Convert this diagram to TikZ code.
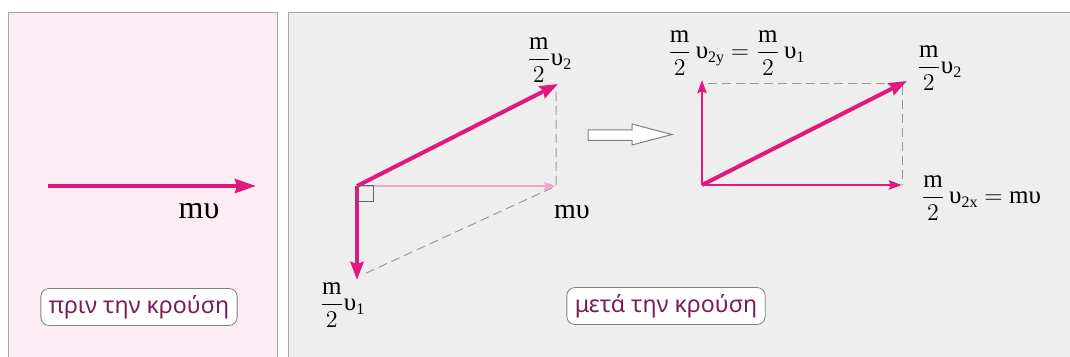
\documentclass[tikz,border=0pt]{standalone}
\usepackage{amsmath}
\usepackage{fontspec}
\setmainfont{Liberation Serif}
\newfontfamily\tagfont{Noto Sans}
\usetikzlibrary{arrows.meta}
\definecolor{vecpink}{RGB}{226,25,125}
\definecolor{fadepink}{RGB}{245,165,205}
\definecolor{panelpink}{RGB}{253,236,244}
\definecolor{panelgray}{RGB}{238,238,238}
\definecolor{tagtext}{RGB}{120,30,85}
\newcommand{\mhalf}{\dfrac{\text{m}}{2}}
\newcommand{\vel}[1]{\text{υ\raisebox{-0.3ex}{\fontsize{8}{9}\selectfont #1}}}

\begin{document}
\begin{tikzpicture}[x=0.5pt, y=-0.5pt, font=\fontsize{14}{16}\selectfont,
  vec/.style={line width=2pt, vecpink, -{Stealth[length=9pt,width=6.5pt,inset=1pt]}},
  comp/.style={line width=1.4pt, vecpink, -{Stealth[length=6.5pt,width=4.5pt,inset=0.8pt]}},
  vecfaint/.style={line width=1pt, fadepink, -{Stealth[length=6pt,width=4pt,inset=0.8pt]}},
  guide/.style={gray!80, line width=0.5pt, dash pattern=on 4.5pt off 2.5pt},
  frac/.style={font=\fontsize{12.5}{14}\selectfont},
  tag/.style={draw=gray, fill=white, rounded corners=4pt, text=tagtext,
    font=\tagfont\fontsize{11.6}{14}\selectfont, minimum height=14.5pt, inner xsep=4pt}]
  \useasboundingbox (0,0) rectangle (1070,357);
  % panels
  \fill[panelpink] (8,12) rectangle (277,357);
  \draw[gray!70] (8,357) -- (8,12) -- (277,12) -- (277,357);
  \fill[panelgray] (288,12) rectangle (1070,357);
  \draw[gray!70] (288,357) -- (288,12) -- (1070,12);
  % before
  \coordinate (a0) at (48,186);
  \coordinate (a1) at (256,186);
  \draw[vec, -{Stealth[length=10.5pt,width=7pt,inset=1pt]}] (a0) -- (a1);
  \node[font=\fontsize{16}{18}\selectfont] (mvA) at (199,211) {mυ};
  \node[tag] (before) at (139,307) {πριν την κρούση};
  % after: parallelogram
  \coordinate (o) at (357,186);
  \coordinate (p2) at (558,84);
  \coordinate (pm) at (556,186);
  \coordinate (pc) at (556,92);
  \coordinate (p1) at (357,280);
  \coordinate (p1e) at (362,275);
  \draw[guide] (pc) -- (pm) -- (p1e);
  \draw[vecfaint] (o) -- (pm);
  \draw[vec] (o) -- (p2);
  \draw[vec] (o) -- (p1);
  \draw[gray!80!black, line width=0.5pt] (o) rectangle ++(16,16);
  \node[frac] (lp2) at (549,60) {$\mhalf\vel{2}$};
  \node (lmv) at (572,212) {mυ};
  \node[frac] (lp1) at (342,305) {$\mhalf\vel{1}$};
  % hollow arrow
  \draw[gray, fill=white, line width=0.5pt] (588,130) -- (632,130) -- (632,124) -- (672,134.5)
    -- (632,145) -- (632,140.5) -- (588,140.5) -- cycle;
  % after: components
  \coordinate (q) at (702,185);
  \coordinate (qy) at (702,80);
  \coordinate (qx) at (902,185);
  \coordinate (q2) at (907,81);
  \coordinate (qt) at (708,84);
  \coordinate (qc) at (902,84);
  \draw[guide] (qt) -- (qc) -- (qx);
  \draw[comp] (q) -- (qy);
  \draw[comp] (q) -- (qx);
  \draw[vec] (q) -- (q2);
  \node[frac] (lqy) at (736,53) {$\mhalf\,\vel{2y} = \mhalf\,\vel{1}$};
  \node[frac] (lq2) at (939,68) {$\mhalf\vel{2}$};
  \node[frac] (lqx) at (981,198) {$\mhalf\,\vel{2x} = \text{mυ}$};
  \node[tag] (after) at (666,306) {μετά την κρούση};
\end{tikzpicture}
\end{document}
